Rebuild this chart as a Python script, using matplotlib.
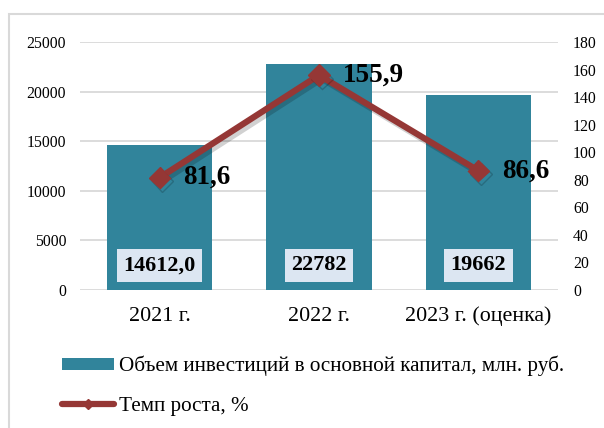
import matplotlib
matplotlib.use("Agg")
import matplotlib.pyplot as plt
import matplotlib.patheffects as pe
from matplotlib.patches import Rectangle
from matplotlib.lines import Line2D
from matplotlib.patches import Patch

categories = ["2021 г.", "2022 г.", "2023 г. (оценка)"]
investments = [14612.0, 22782, 19662]
inv_labels = ["14612,0", "22782", "19662"]
growth = [81.6, 155.9, 86.6]
growth_labels = ["81,6", "155,9", "86,6"]
left_ticks = [0, 5000, 10000, 15000, 20000, 25000]
right_ticks = [0, 20, 40, 60, 80, 100, 120, 140, 160, 180]

bar_color = "#31849B"
line_color = "#953735"
box_color = "#DCE6F2"
grid_color = "#D9D9D9"

plt.rcParams['font.family'] = ['Liberation Serif', 'DejaVu Serif']

W, H = 604, 428
fig = plt.figure(figsize=(W / 100, H / 100), dpi=100)

# outer chart frame
fig.patches.append(Rectangle((9 / W, -0.1), 1.2, (H - 14) / H + 0.1,
                             transform=fig.transFigure, fill=False,
                             edgecolor="#D9D9D9", linewidth=1.5))

ax = fig.add_axes([80 / W, (H - 290) / H, 478 / W, 248 / H])
x = list(range(len(categories)))
ax.bar(x, investments, width=0.66, color=bar_color, zorder=2)
ax.set_xlim(-0.5, 2.5)
ax.set_ylim(0, 25000)
ax.set_yticks(left_ticks)
ax.set_yticklabels([str(v) for v in left_ticks], fontsize=11.3)
ax.set_xticks(x)
ax.set_xticklabels(categories, fontsize=15.8)
ax.tick_params(axis='both', length=0)
ax.tick_params(axis='x', pad=12)
ax.tick_params(axis='y', pad=10)
ax.grid(axis='y', color=grid_color, linewidth=1.3, zorder=0)
for s in ax.spines.values():
    s.set_visible(False)

for xi, lab in zip(x, inv_labels):
    ax.text(xi, 2470, lab, ha='center', va='center', fontsize=16,
            fontweight='bold', zorder=4,
            bbox=dict(boxstyle='square,pad=0.3', facecolor=box_color,
                      edgecolor='none'))

ax2 = ax.twinx()
ax2.set_ylim(0, 180)
ax2.set_yticks(right_ticks)
ax2.set_yticklabels([str(v) for v in right_ticks], fontsize=11.3)
ax2.tick_params(axis='y', length=0, pad=10.8)
for s in ax2.spines.values():
    s.set_visible(False)

ax2.plot(x, growth, color=line_color, linewidth=4.5, marker='D',
         markersize=11, zorder=5, solid_capstyle='round',
         path_effects=[pe.SimpleLineShadow(offset=(2, -2.5), alpha=0.18,
                                           shadow_color='black'),
                       pe.Normal()])
for xi, g, lab in zip(x, growth, growth_labels):
    ax2.annotate(lab, (xi, g), xytext=(17, 0), textcoords='offset points',
                 ha='left', va='center', fontsize=19.5, fontweight='bold', zorder=6)

handles = [Patch(facecolor=bar_color, edgecolor='none'),
           Line2D([0], [0], color=line_color, linewidth=4.5, marker='D',
                  markersize=5, solid_capstyle='round')]
labels = ["Объем инвестиций в основной капитал, млн. руб.", "Темп роста, %"]
fig.legend(handles, labels, loc='upper left', bbox_to_anchor=(62 / W, 1 - 356 / H),
           frameon=False, fontsize=15.2, handlelength=2.45, handleheight=0.51,
           handletextpad=0.23, labelspacing=0.95, borderaxespad=0, borderpad=0)

fig.savefig("out.png", dpi=100)
